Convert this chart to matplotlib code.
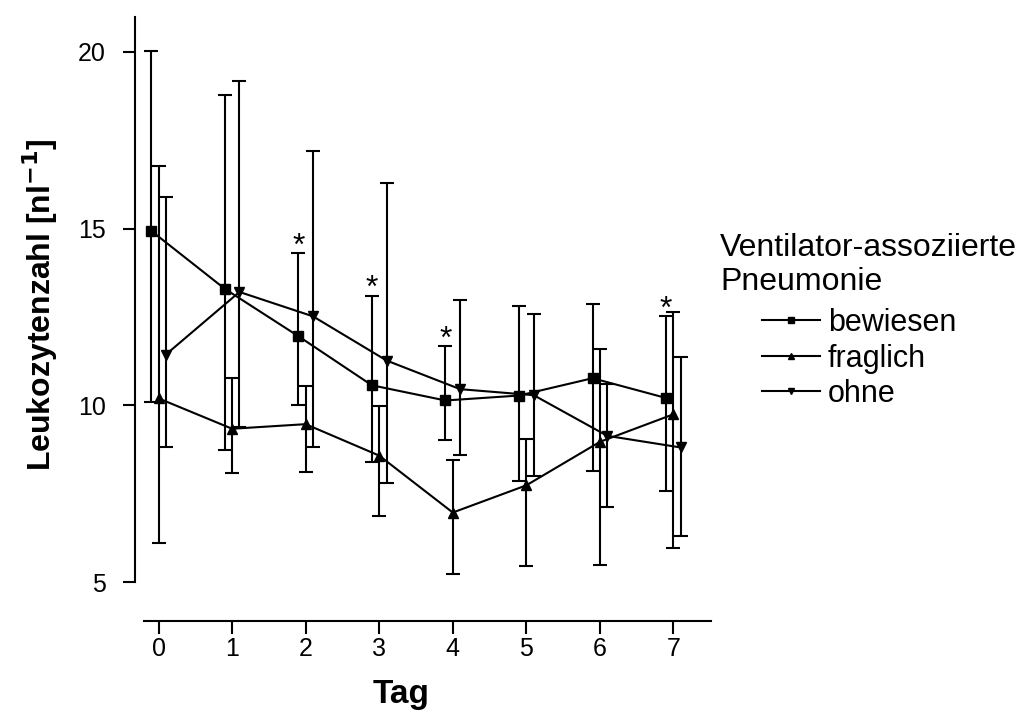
import matplotlib
matplotlib.use("Agg")
import matplotlib.pyplot as plt
from matplotlib.lines import Line2D
import numpy as np

plt.rcParams.update({
    "font.family": ["Liberation Sans", "DejaVu Sans"],
    "font.size": 18,
})

days = [0, 1, 2, 3, 4, 5, 6, 7]

# mean, lower and upper end of the error bar per group
bew_mean = [14.94, 13.30, 11.96, 10.57, 10.14, 10.28, 10.77, 10.21]
bew_lo = [10.10, 8.74, 10.02, 8.39, 9.03, 7.85, 8.14, 7.58]
bew_hi = [20.04, 18.79, 14.30, 13.10, 11.67, 12.80, 12.86, 12.52]

fra_mean = [10.20, 9.34, 9.47, 8.58, 6.97, 7.74, 8.97, 9.75]
fra_lo = [6.12, 8.09, 8.11, 6.88, 5.23, 5.45, 5.49, 5.97]
fra_hi = [16.76, 10.79, 10.56, 9.99, 8.47, 9.06, 11.61, 12.63]

ohn_mean = [11.44, 13.21, 12.52, 11.27, 10.46, 10.29, 9.14, 8.81]
ohn_lo = [8.83, 9.39, 8.81, 7.80, 8.61, 8.00, 7.14, 6.30]
ohn_hi = [15.90, 19.19, 17.19, 16.29, 12.99, 12.58, 10.62, 11.38]

star_days = [2, 3, 4, 7]  # significant days, marked above "bewiesen"

groups = [
    ("bewiesen", bew_mean, bew_lo, bew_hi, "s", -0.1),
    ("fraglich", fra_mean, fra_lo, fra_hi, "^", 0.0),
    ("ohne", ohn_mean, ohn_lo, ohn_hi, "v", 0.1),
]

fig = plt.figure(figsize=(10.2, 7.13), dpi=100)
# axes box in pixels: left spine at x=135, bottom spine at y=620.7
ax = fig.add_axes([135 / 1020, 1 - 620.7 / 713, 576 / 1020, 604.1 / 713])

handles = []
for label, mean, lo, hi, marker, dx in groups:
    x = np.array(days) + dx
    m = np.array(mean)
    err = [m - np.array(lo), np.array(hi) - m]
    ax.errorbar(x, m, yerr=err, color="black", marker=marker,
                markersize=7, linewidth=1.5, elinewidth=1.5,
                capsize=5, capthick=1.5)
    handles.append(Line2D([], [], color="black", marker=marker,
                          markersize=5, linewidth=1.5))

for d in star_days:
    ax.annotate("*", xy=(d - 0.1, bew_hi[d]), xytext=(0, -1),
                textcoords="offset points", ha="center", va="baseline",
                fontsize=23)

ax.set_xlim(-0.32, 7.51)
ax.set_ylim(3.91, 21.0)
ax.set_xticks(days)
ax.set_yticks([5, 10, 15, 20])
ax.spines["bottom"].set_bounds(-0.2, 7.51)
ax.spines["left"].set_bounds(5, 21.0)
for s in ("top", "right"):
    ax.spines[s].set_visible(False)
for s in ("bottom", "left"):
    ax.spines[s].set_linewidth(1.5)
ax.tick_params(width=1.5, length=9, labelsize=18)
ax.tick_params(axis="x", pad=3)
ax.tick_params(axis="y", pad=12)

ax.set_xlabel("Tag", fontsize=24, fontweight="bold")
ax.set_ylabel("Leukozytenzahl [nl$^{\\mathbf{-1}}$]", fontsize=23,
              fontweight="bold")
ax.xaxis.label.set_verticalalignment("center")
ax.yaxis.label.set_verticalalignment("center")
ax.xaxis.set_label_coords(0.462, -0.122)
ax.yaxis.set_label_coords(-0.165, 0.5226)

fig.text(720 / 1020, 1 - 265 / 713, "Ventilator-assoziierte\nPneumonie",
         fontsize=23, ha="left", va="center", linespacing=1.2)
fig.legend(handles=handles, labels=[g[0] for g in groups],
           loc="upper left", bbox_to_anchor=(762 / 1020, 1 - 308 / 713),
           frameon=False, fontsize=22, handlelength=1.9, borderpad=0,
           borderaxespad=0, handletextpad=0.26, labelspacing=0.18)

fig.savefig("out.png", dpi=100)
